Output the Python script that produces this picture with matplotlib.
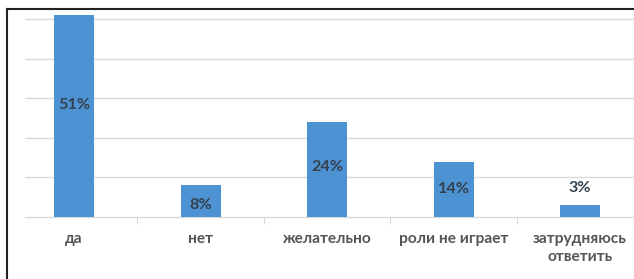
import numpy as np
import matplotlib
matplotlib.use("Agg")
import matplotlib.pyplot as plt
from matplotlib.lines import Line2D

# data
categories = ["да", "нет", "желательно", "роли не играет", "затрудняюсь\nответить"]
values = [51, 8, 24, 14, 3]
labels = ["51%", "8%", "24%", "14%", "3%"]

W, H = 634, 279
fig = plt.figure(figsize=(W / 100, H / 100), dpi=100)
plt.rcParams['font.family'] = ['Lato', 'DejaVu Sans']

# plot area in pixels: left 25, right 634, baseline 217, top 10
left, right, base, top = 25, 634, 217, 10
ax = fig.add_axes([left / W, (H - base) / H, (right - left) / W, (base - top) / H])

px_per_cat = 126.5
x0 = 74.0
ax.set_xlim((left - x0) / px_per_cat, (right - x0) / px_per_cat)
px_per_unit = 3.96
ax.set_ylim(0, (base - top) / px_per_unit)

x = np.arange(len(categories))
bars = ax.bar(x, values, width=40 / px_per_cat, color='#4d93d3', zorder=3)

ax.set_yticks([10, 20, 30, 40, 50])
ax.yaxis.grid(True, color='#d9d9d9', linewidth=1.0, zorder=0)
ax.tick_params(axis='y', left=False, labelleft=False)

ax.set_xticks(x)
ax.set_xticklabels(categories, fontsize=11.2, fontweight='bold', color='#555555',
                   linespacing=1.35)
ax.set_xticks(x[:-1] + 0.5, minor=True)
ax.tick_params(axis='x', which='major', length=0, pad=11)
ax.tick_params(axis='x', which='minor', length=5, width=0.8, color='#d9d9d9')

for s in ['top', 'right', 'left']:
    ax.spines[s].set_visible(False)
ax.spines['bottom'].set_color('#d9d9d9')
ax.spines['bottom'].set_linewidth(1.0)

# value labels: inside at center, small bars above
shift = [2.8, -1.0, 0.6, 0.0, 0.0]
for i, (v, lab) in enumerate(zip(values, labels)):
    if v < 5:
        y = v + 4.4
    else:
        y = v / 2 + shift[i]
    ax.text(i, y, lab, ha='center', va='center', fontsize=11.6,
            fontweight='bold', color='#33404d', zorder=4)

# outer frame (left and top only visible)
fig.add_artist(Line2D([6.5 / W, 6.5 / W], [0, 1 - 9 / H], color='#222222', lw=1.5,
                      transform=fig.transFigure))
fig.add_artist(Line2D([6.5 / W, 1], [1 - 9 / H, 1 - 9 / H], color='#222222', lw=1.5,
                      transform=fig.transFigure))

fig.savefig('out.png', dpi=100)
